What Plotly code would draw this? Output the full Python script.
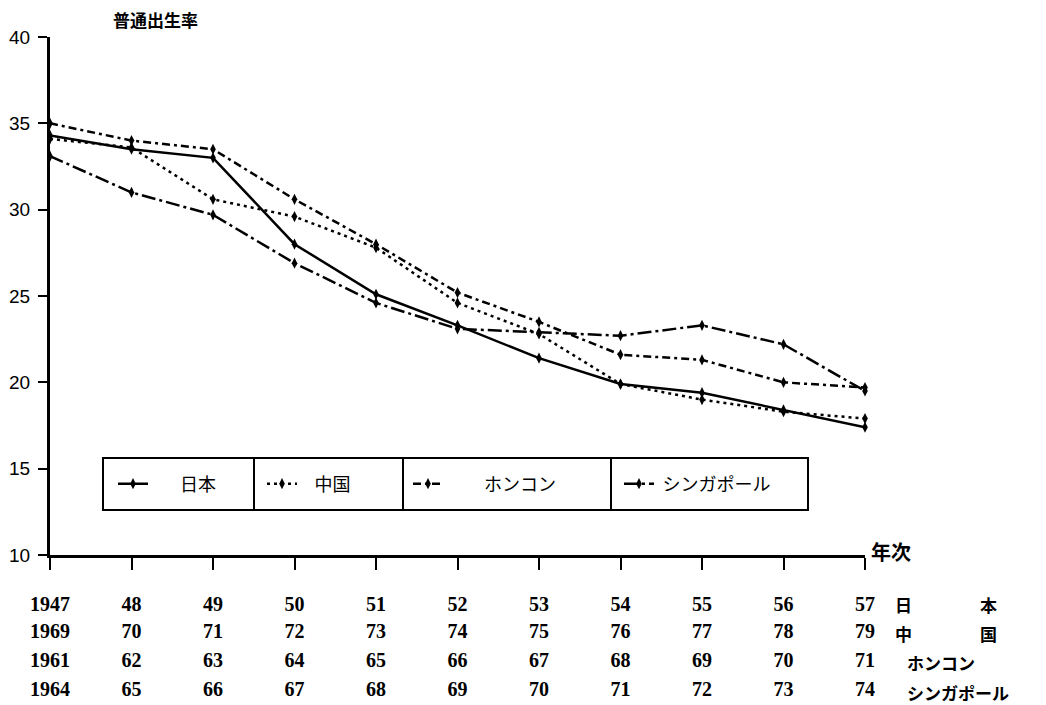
import plotly.graph_objects as go

# ---- data ----
idx = list(range(11))
japan_years = ["1947", "48", "49", "50", "51", "52", "53", "54", "55", "56", "57"]
china_years = ["1969", "70", "71", "72", "73", "74", "75", "76", "77", "78", "79"]
hk_years = ["1961", "62", "63", "64", "65", "66", "67", "68", "69", "70", "71"]
sg_years = ["1964", "65", "66", "67", "68", "69", "70", "71", "72", "73", "74"]

japan = [34.3, 33.5, 33.0, 28.0, 25.1, 23.3, 21.4, 19.9, 19.4, 18.4, 17.4]
china = [34.1, 33.6, 30.6, 29.6, 27.8, 24.6, 22.8, 19.9, 19.0, 18.3, 17.9]
hongkong = [35.0, 34.0, 33.5, 30.6, 28.0, 25.2, 23.5, 21.6, 21.3, 20.0, 19.7]
singapore = [33.1, 31.0, 29.7, 26.9, 24.6, 23.1, 22.9, 22.7, 23.3, 22.2, 19.5]

names = ["日本", "中国", "ホンコン", "シンガポール"]
row_labels = ["日\u3000\u3000\u3000\u3000本", "中\u3000\u3000\u3000\u3000国", "ホンコン", "シンガポール"]

CJK = "Noto Sans CJK JP"
SERIF = "Liberation Serif"
SANS = "Liberation Sans"

series = [
    (japan, japan_years, "solid", "x", "legend", "\u3000\u2002" + names[0]),
    (china, china_years, "3px,4px", "x2", "legend2", "\u2002\u2009" + names[1]),
    (hongkong, hk_years, "8px,4px,3px,4px", "x3", "legend3", "\u3000\u3000" + names[2]),
    (singapore, sg_years, "14px,4px,3px,4px", "x4", "legend4", "\u2009" + names[3]),
]

fig = go.Figure()
for vals, yrs, dash, xa, lg, nm in series:
    fig.add_trace(go.Scatter(
        x=idx, y=vals, xaxis=xa, yaxis="y", mode="lines+markers",
        name=nm, legend=lg, showlegend=True,
        line=dict(color="black", width=2.5, dash=dash),
        marker=dict(symbol="diamond-tall", size=8, color="black"),
        cliponaxis=False,
    ))

# page body adds an 8px offset; figure coords = reference px - OFF
OFF = 8
W, H = 1046 - OFF, 705 - OFF
L, R, T, B = 50 - OFF, 181, 37 - OFF, 150
pw, ph = W - L - R, H - T - B

def px(x):
    return (x - OFF - L) / pw

def py(y):
    return (H - B - (y - OFF)) / ph

row_std = [17, 46, 75, 104]
xtick_font = dict(family=SERIF, size=20, color="black")
ytick_font = dict(family=SANS, size=19, color="black")
base_x = dict(range=[0, 10], tickmode="array", tickvals=idx, showgrid=False,
              zeroline=False, ticks="outside", ticklen=12, tickwidth=2,
              tickfont=xtick_font, fixedrange=True, automargin=False)

layout = dict(
    width=W, height=H, showlegend=True,
    margin=dict(l=L, r=R, t=T, b=B, autoexpand=False),
    plot_bgcolor="white", paper_bgcolor="white",
    yaxis=dict(range=[10, 40], tickvals=[10, 15, 20, 25, 30, 35, 40],
               showline=True, linewidth=3, linecolor="black", showgrid=False,
               zeroline=False, ticks="outside", ticklen=9, tickwidth=2,
               tickcolor="black", tickfont=ytick_font, ticklabelstandoff=4,
               automargin=False, fixedrange=True),
    xaxis=dict(base_x, ticktext=["<b>" + t + "</b>" for t in japan_years],
               showline=True, linewidth=3, linecolor="black", tickcolor="black",
               ticklabelstandoff=row_std[0]),
)
for i, (yrs, ax) in enumerate([(china_years, "xaxis2"), (hk_years, "xaxis3"), (sg_years, "xaxis4")], start=1):
    layout[ax] = dict(base_x, ticktext=["<b>" + t + "</b>" for t in yrs],
                      overlaying="x", anchor="y", side="bottom",
                      showline=False, tickcolor="rgba(0,0,0,0)",
                      ticklabelstandoff=row_std[i])

# legend cells
cells = [103, 254, 403, 611, 808]
ytop, ybot = 458, 510
leg_x = [113, 262, 408, 619]
for i, lg in enumerate(["legend", "legend2", "legend3", "legend4"]):
    layout[lg] = dict(x=px(leg_x[i]), y=py((ytop + ybot) / 2), xanchor="left",
                      yanchor="middle", bgcolor="rgba(0,0,0,0)", borderwidth=0,
                      font=dict(family=CJK, size=18, color="black"))
fig.update_layout(**layout)

shapes = []
for i in range(4):
    shapes.append(dict(type="rect", xref="paper", yref="paper",
                       x0=px(cells[i]), x1=px(cells[i + 1]), y0=py(ybot), y1=py(ytop),
                       line=dict(color="black", width=2)))
fig.update_layout(shapes=shapes)

ann = [
    dict(text="<b>普通出生率</b>", x=px(111), y=py(19), xanchor="left", yanchor="middle",
         font=dict(family=CJK, size=17, color="black")),
    dict(text="<b>年次</b>", x=px(869), y=py(551), xanchor="left", yanchor="middle",
         font=dict(family=CJK, size=20, color="black")),
]
row_y = [604, 633, 662, 692]
row_x = [893, 893, 905, 905]
for lab, yy, xx in zip(row_labels, row_y, row_x):
    ann.append(dict(text="<b>" + lab + "</b>", x=px(xx), y=py(yy), xanchor="left", yanchor="middle",
                    font=dict(family=CJK, size=17, color="black")))
for a in ann:
    a.update(xref="paper", yref="paper", showarrow=False)
fig.update_layout(annotations=ann)

fig.write_html("out.html")
